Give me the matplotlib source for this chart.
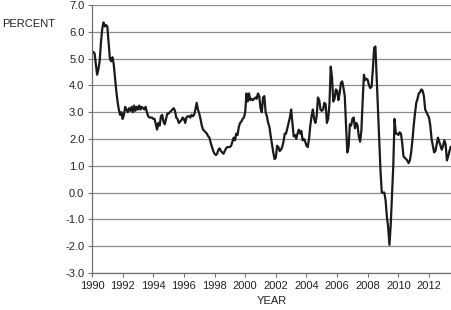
import numpy as np
import matplotlib.pyplot as plt

plt.rcParams['font.family'] = ['Liberation Sans', 'DejaVu Sans']

# monthly values, Jan 1990 .. Jun 2013 (percent)
start_year = 1990
rate = [
    # 1990
    5.2, 5.25, 5.2, 4.8, 4.4, 4.6, 4.9, 5.6, 6.1, 6.35, 6.2, 6.25,
    # 1991
    6.2, 5.6, 5.0, 4.9, 5.05, 4.8, 4.3, 3.8, 3.4, 3.1, 2.9, 3.0,
    # 1992
    2.75, 2.9, 3.2, 3.1, 3.0, 3.15, 3.05, 3.2, 3.0, 3.25, 3.05, 3.2,
    # 1993
    3.1, 3.25, 3.1, 3.2, 3.15, 3.1, 3.2, 3.0, 2.85, 2.8, 2.8, 2.8,
    # 1994
    2.75, 2.75, 2.55, 2.35, 2.6, 2.5, 2.85, 2.9, 2.65, 2.55, 2.75, 2.95,
    # 1995
    2.95, 3.0, 3.05, 3.1, 3.15, 3.05, 2.8, 2.75, 2.6, 2.65, 2.7, 2.8,
    # 1996
    2.75, 2.6, 2.8, 2.85, 2.85, 2.8, 2.9, 2.85, 2.9, 3.1, 3.35, 3.1,
    # 1997
    2.95, 2.75, 2.5, 2.35, 2.3, 2.25, 2.2, 2.1, 2.05, 1.85, 1.7, 1.55,
    # 1998
    1.45, 1.4, 1.45, 1.6, 1.65, 1.55, 1.5, 1.45, 1.55, 1.65, 1.7, 1.7,
    # 1999
    1.7, 1.75, 1.9, 2.05, 1.95, 2.2, 2.15, 2.45, 2.6, 2.65, 2.75, 2.8,
    # 2000
    3.0, 3.7, 3.4, 3.7, 3.45, 3.5, 3.45, 3.5, 3.55, 3.5, 3.7, 3.6,
    # 2001
    3.15, 3.0, 3.55, 3.6, 3.0, 2.85, 2.6, 2.45, 2.1, 1.8, 1.5, 1.25,
    # 2002
    1.3, 1.75, 1.7, 1.55, 1.6, 1.7, 1.9, 2.2, 2.2, 2.4, 2.6, 2.8,
    # 2003
    3.1, 2.6, 2.1, 2.15, 2.0, 2.2, 2.35, 2.2, 2.3, 1.95, 2.0, 1.9,
    # 2004
    1.75, 1.7, 2.0, 2.5, 2.85, 3.1, 2.75, 2.6, 2.85, 3.55, 3.45, 3.1,
    # 2005
    3.05, 3.1, 3.35, 3.3, 2.6, 2.75, 3.3, 4.7, 4.3, 3.4, 3.5, 3.85,
    # 2006
    3.8, 3.45, 3.7, 4.1, 4.15, 3.9, 3.6, 2.5, 1.5, 1.7, 2.55, 2.5,
    # 2007
    2.75, 2.8, 2.4, 2.6, 2.5, 2.1, 1.9, 2.3, 3.4, 4.4, 4.2, 4.25,
    # 2008
    4.2, 4.0, 3.9, 3.95, 4.6, 5.4, 5.45, 4.3, 3.2, 2.0, 0.8, 0.0,
    # 2009
    0.0, 0.0, -0.3, -0.9, -1.3, -1.95, -1.2, -0.1, 1.0, 2.75, 2.2, 2.2,
    # 2010
    2.15, 2.25, 2.2, 1.85, 1.35, 1.3, 1.25, 1.2, 1.1, 1.2, 1.5, 1.95,
    # 2011
    2.5, 2.95, 3.35, 3.5, 3.7, 3.75, 3.85, 3.8, 3.6, 3.1, 3.0, 2.9,
    # 2012
    2.8, 2.5, 2.0, 1.75, 1.5, 1.55, 1.8, 2.05, 1.9, 1.75, 1.6, 1.75,
    # 2013
    1.95, 1.8, 1.2, 1.35, 1.55, 1.7,
]
years = start_year + np.arange(len(rate)) / 12.0

x_ticks = list(range(1990, 2013, 2))
y_ticks = np.arange(-3, 8, 1)

fig = plt.figure(figsize=(4.52, 3.10), dpi=100)
ax = fig.add_axes([92 / 452, 37 / 310, 360 / 452, 268 / 310])

ax.plot(years, rate, color='#1a1a1a', linewidth=1.6)

ax.set_xlim(1990, 2013.5)
ax.set_ylim(-3, 7)
ax.set_xticks(x_ticks)
ax.set_yticks(y_ticks)
ax.set_yticklabels([f'{v:.1f}' for v in y_ticks])
ax.grid(axis='y', color='#8c8c8c', linewidth=0.9)
ax.set_axisbelow(True)

for s in ['top', 'right']:
    ax.spines[s].set_visible(False)
for s in ['left', 'bottom']:
    ax.spines[s].set_color('#707070')
    ax.spines[s].set_linewidth(0.9)

ax.tick_params(axis='both', colors='#707070', labelcolor='#222222',
               labelsize=8, length=3, width=0.8, pad=2.5)

fig.text(2 / 452, 1 - 24 / 310, 'PERCENT', fontsize=8, color='#222222',
         ha='left', va='center')
fig.text(272 / 452, 1 - 301 / 310, 'YEAR', fontsize=8, color='#222222',
         ha='center', va='center')

fig.savefig('out.png', dpi=100)
